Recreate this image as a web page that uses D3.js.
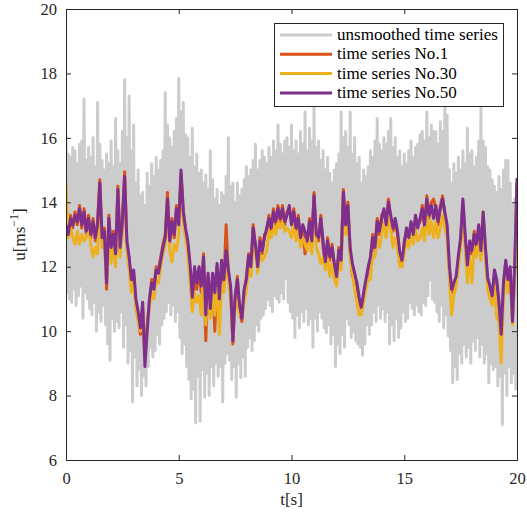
<!DOCTYPE html>
<html><head><meta charset="utf-8">
<script src="https://cdn.jsdelivr.net/npm/d3@7"></script>
<style>body{margin:0;background:#fff}</style>
</head><body>
<svg id="c" width="527" height="516"></svg>
<script>
const dtRaw = 0.05;
const dt = 0.1;
const unsmoothed = [
16.1,11.2,15.5,11.0,15.4,10.9,15.7,11.3,15.6,10.8,15.2,11.1,15.8,11.4,15.9,10.4,17.2,11.2,15.3,11.0,
15.7,10.7,15.4,10.5,16.0,10.9,15.1,10.0,17.1,10.6,15.8,10.3,15.3,10.8,15.0,10.2,15.5,9.6,15.2,9.1,
15.9,10.4,15.1,10.0,16.6,10.3,15.6,10.1,15.2,10.6,16.2,9.5,17.8,10.2,16.0,9.0,17.3,9.4,15.6,7.8,
16.4,9.2,14.6,8.3,15.0,8.8,14.2,8.0,14.3,8.6,13.9,8.3,14.9,8.9,14.5,9.5,15.2,9.2,14.8,9.4,
15.4,9.9,15.0,9.6,15.3,10.2,15.6,10.4,17.4,10.6,16.4,10.9,16.0,10.5,15.7,10.8,16.2,10.3,16.6,10.6,
17.85,9.8,16.8,9.3,17.1,9.6,16.1,8.9,16.0,8.5,15.4,7.9,16.3,8.2,15.1,7.15,15.5,8.6,14.9,7.2,
15.0,8.8,14.6,7.95,14.85,8.7,14.4,8.0,15.6,8.9,14.7,8.3,14.1,9.0,14.4,8.6,13.9,8.9,14.3,7.8,
14.2,9.0,14.8,9.3,16.0,9.1,14.5,8.5,14.6,8.9,14.0,7.95,14.6,9.0,14.2,8.55,14.4,9.2,14.7,8.6,
15.1,9.5,14.8,9.8,15.0,9.4,15.3,9.7,15.8,10.2,15.0,10.0,15.3,10.4,15.6,10.5,15.4,10.7,15.2,11.0,
15.7,10.8,15.4,10.6,15.9,11.1,15.6,11.0,16.4,10.9,15.8,11.2,15.5,11.0,15.9,11.65,16.0,10.9,15.7,10.6,
16.4,10.4,15.6,9.8,15.9,10.5,15.5,10.1,16.2,10.6,15.8,10.3,16.8,10.7,15.6,10.2,16.3,10.4,15.9,9.5,
17.0,10.4,15.7,10.0,15.9,10.6,15.3,10.4,15.6,10.1,15.0,9.95,15.4,10.2,14.9,9.6,14.6,9.9,15.0,8.9,
15.2,9.6,15.5,9.3,16.8,9.9,16.0,9.5,16.2,10.4,15.7,10.2,16.8,9.8,15.5,10.0,16.0,9.7,15.2,9.6,
15.4,9.5,14.6,9.25,15.0,9.6,14.8,10.2,15.1,9.9,15.6,10.2,15.4,10.6,15.9,10.3,16.6,10.8,15.8,10.4,
15.6,10.7,16.0,10.3,15.8,10.6,16.2,9.6,16.6,10.2,15.7,9.7,16.0,10.4,15.4,9.8,15.6,10.1,15.1,10.6,
15.5,10.3,15.2,10.4,15.6,10.9,15.9,10.7,15.4,10.5,15.7,10.8,15.8,10.6,16.1,10.5,16.2,10.9,15.9,10.8,
16.8,11.1,16.0,11.6,16.4,11.0,16.2,10.9,16.2,10.6,15.8,10.3,16.5,10.8,16.2,10.1,17.0,10.5,16.7,9.85,
15.0,9.4,14.6,8.4,15.2,8.9,14.9,8.5,15.4,9.3,15.0,9.0,15.6,9.6,15.2,9.2,16.3,9.5,15.5,9.0,
15.6,9.7,15.1,9.4,15.4,9.8,15.9,9.2,16.95,9.6,15.9,9.0,15.7,9.3,15.1,8.4,15.0,9.0,14.7,8.8,
14.5,8.9,14.3,8.3,14.8,8.6,14.4,7.1,15.0,8.7,15.3,8.0,15.3,8.9,14.6,8.4,13.9,8.7,14.1,8.2,
14.3];
const series1 = [
13.4,13.1,13.6,13.2,13.7,13.3,13.9,13.2,13.8,13.0,
13.6,12.9,13.5,12.8,13.4,14.7,12.8,13.2,11.3,13.6,
12.5,13.1,12.3,14.5,12.5,13.5,14.95,12.7,12.2,11.4,
11.8,10.8,10.4,9.9,10.7,9.2,10.2,10.9,11.6,11.4,
12.0,11.9,12.3,12.7,13.0,14.3,12.7,13.5,12.9,13.9,
13.4,14.9,13.8,13.1,12.7,11.9,10.8,11.9,11.3,11.9,
11.2,12.4,9.7,11.7,10.5,11.7,10.0,12.0,10.9,12.1,
11.5,13.3,11.8,11.3,9.6,11.0,11.7,10.6,10.3,11.2,
11.7,12.4,12.0,13.3,12.6,12.0,12.9,12.4,13.0,13.1,
13.6,13.1,13.8,13.3,13.9,13.4,13.9,13.3,13.7,13.8,
13.4,13.8,13.1,13.6,12.8,13.2,12.4,12.7,13.5,12.7,
14.3,12.9,12.8,13.6,12.6,12.0,12.9,12.2,12.7,12.0,
11.6,12.6,12.1,14.4,13.2,14.0,12.5,11.7,11.7,11.4,
10.9,10.7,11.1,11.5,11.9,12.2,13.0,12.5,13.5,13.0,
13.6,13.7,13.4,14.1,13.5,13.1,13.4,13.0,12.3,12.0,
12.8,13.1,13.0,13.3,13.1,13.5,13.3,13.4,13.9,13.2,
14.2,13.5,14.0,14.1,13.8,13.3,13.9,14.2,13.6,13.2,
11.9,11.2,11.4,11.55,12.2,12.8,14.0,12.9,11.9,12.7,
12.4,13.1,12.6,13.2,12.4,13.6,12.5,11.5,11.3,11.0,
11.8,11.5,10.8,10.0,11.4,12.1,11.5,11.9,10.4,11.85,
14.6];
const series30 = [
14.6,12.9,13.2,12.9,12.7,13.1,12.7,13.0,12.8,12.9,
13.2,12.7,12.3,12.6,12.4,14.3,12.6,12.8,11.6,13.2,
12.1,12.7,12.0,14.0,12.3,13.1,14.5,12.5,11.9,11.2,
11.5,10.7,10.3,10.0,10.6,9.1,10.1,10.8,11.2,11.0,
11.6,11.5,12.0,12.4,12.7,13.8,12.5,12.15,12.7,12.5,
13.0,14.7,13.4,12.9,12.4,11.6,10.6,11.2,10.9,11.1,
10.5,11.9,10.2,11.2,10.4,11.2,10.5,11.6,9.9,11.4,
11.2,12.1,11.6,11.0,9.8,10.7,10.9,10.5,10.6,10.9,
11.3,12.0,11.7,12.8,12.4,11.8,12.4,12.2,12.3,12.5,
13.1,12.9,13.3,13.0,13.4,13.2,13.4,13.1,13.2,13.1,
12.9,13.4,12.8,13.1,12.6,12.9,12.7,12.5,13.0,12.4,
13.9,12.6,12.4,12.1,12.3,11.9,12.3,11.7,12.1,11.6,
11.4,12.2,11.9,14.1,13.0,13.6,12.3,11.8,11.3,10.9,
10.5,10.5,10.9,11.3,11.6,11.6,12.4,12.3,12.9,12.6,
13.0,13.4,12.9,13.6,13.2,12.6,12.9,12.6,12.0,12.0,
12.4,12.8,12.6,13.0,12.7,13.2,12.8,12.9,13.2,12.8,
13.7,13.0,13.4,12.9,13.4,12.9,13.2,13.6,13.2,12.9,
11.7,10.5,11.1,11.4,12.0,12.6,13.8,12.6,11.5,12.3,
11.5,12.6,12.3,12.9,12.2,13.7,12.3,11.3,11.0,10.8,
11.4,10.4,10.3,9.0,11.0,11.9,11.2,11.7,10.2,11.8,
14.2];
const series50 = [
13.3,13.0,13.5,13.3,13.6,13.4,13.8,13.3,13.7,13.1,
13.5,13.0,13.4,12.9,13.3,14.6,12.9,13.1,11.5,13.5,
12.6,13.0,12.4,14.4,12.6,13.4,14.8,12.8,12.3,11.6,
11.9,11.0,10.6,10.1,10.9,8.9,10.0,11.0,11.5,11.3,
11.9,11.8,12.2,12.6,12.9,14.1,12.8,13.4,13.0,13.8,
13.3,15.0,13.7,13.2,12.8,12.1,11.05,12.0,11.5,12.0,
11.4,12.3,10.5,11.8,10.7,11.8,11.2,12.1,11.0,12.2,
11.6,12.5,11.9,11.4,9.7,11.1,11.6,10.8,10.4,11.3,
11.6,12.35,12.0,13.2,12.7,12.0,12.8,12.5,12.9,13.2,
13.5,13.2,13.7,13.4,13.8,13.5,13.8,13.4,13.6,13.9,
13.3,13.7,13.2,13.5,12.9,13.3,13.1,12.8,13.4,12.8,
14.2,13.0,12.9,13.5,12.8,12.15,12.8,12.3,12.6,12.1,
11.7,12.5,12.2,14.3,13.3,13.9,12.6,12.1,11.8,11.5,
11.05,10.75,11.2,11.6,12.0,12.3,12.9,12.6,13.4,13.1,
13.5,13.8,13.3,14.0,13.6,13.2,13.5,13.1,12.45,12.2,
12.7,13.2,12.9,13.4,13.0,13.6,13.2,13.5,13.8,13.3,
14.1,13.6,13.9,13.5,13.9,13.4,13.8,14.1,13.7,13.3,
12.05,11.3,11.5,11.7,12.35,12.9,14.1,13.0,12.05,12.8,
12.5,13.0,12.7,13.3,12.5,13.7,12.6,11.65,11.4,11.1,
11.9,11.6,10.9,9.9,11.5,12.2,11.6,12.0,10.3,12.1,
14.75];
const xTicks = [0, 5, 10, 15, 20];
const yTicks = [6, 8, 10, 12, 14, 16, 18, 20];
const legendLabels = ["unsmoothed time series", "time series No.1", "time series No.30", "time series No.50"];
const colors = ["#cccccc", "#D95319", "#EDB120", "#7E2F8E"];

const FONT = '"Liberation Serif"';
const svg = d3.select("#c");
const L = 66, R = 517, T = 9, B = 460;
const x = d3.scaleLinear().domain([0, 20]).range([L, R]);
const y = d3.scaleLinear().domain([6, 20]).range([B, T]);
const axisColor = "#262626";

svg.append("defs").append("clipPath").attr("id", "clip")
  .append("rect").attr("x", L).attr("y", T).attr("width", R - L).attr("height", B - T);

const g = svg.append("g").attr("clip-path", "url(#clip)");
[unsmoothed, series1, series30, series50].forEach((s, k) => {
  const step = k === 0 ? dtRaw : dt;
  const line = d3.line().x((d, i) => x(i * step)).y(d => y(d));
  g.append("path").datum(s).attr("d", line)
    .attr("fill", "none").attr("stroke", colors[k])
    .attr("stroke-width", 3)
    .attr("stroke-linejoin", "round").attr("stroke-linecap", "butt");
});

// axes
const tk = 5;
const ax = svg.append("g");
ax.append("g").attr("transform", `translate(0,${B})`)
  .call(d3.axisBottom(x).tickValues(xTicks).tickSize(-tk).tickPadding(12).tickFormat(d3.format("d")));
ax.append("g").attr("transform", `translate(0,${T})`)
  .call(d3.axisTop(x).tickValues(xTicks).tickSize(-tk).tickFormat(""));
ax.append("g").attr("transform", `translate(${L},0)`)
  .call(d3.axisLeft(y).tickValues(yTicks).tickSize(-tk).tickPadding(9).tickFormat(d3.format("d")));
ax.append("g").attr("transform", `translate(${R},0)`)
  .call(d3.axisRight(y).tickValues(yTicks).tickSize(-tk).tickFormat(""));
ax.selectAll(".domain").attr("stroke", axisColor).attr("stroke-width", 1);
ax.selectAll(".tick line").attr("stroke", axisColor);
ax.selectAll(".tick text").attr("fill", axisColor).style("font-family", FONT).style("font-size", "16.5px");

// axis labels
svg.append("text").attr("x", (L + R) / 2).attr("y", 505).attr("text-anchor", "middle")
  .style("font-family", FONT).style("font-size", "17px").attr("fill", axisColor).text("t[s]");
const yl = svg.append("text").attr("transform", `translate(25,${(T + B) / 2}) rotate(-90)`)
  .attr("text-anchor", "middle").style("font-family", FONT).style("font-size", "17px").attr("fill", axisColor);
yl.append("tspan").text("u[ms");
yl.append("tspan").attr("dy", -7).style("font-size", "12px").text("−1");
yl.append("tspan").attr("dy", 7).text("]");

// legend
const lg = svg.append("g");
lg.append("rect").attr("x", 274.5).attr("y", 23.5).attr("width", 229).attr("height", 83)
  .attr("fill", "#fff").attr("stroke", axisColor).attr("stroke-width", 1);
const texts = [];
legendLabels.forEach((lab, k) => {
  const cy = 35 + k * 19.3;
  lg.append("line").attr("x1", 280).attr("x2", 332).attr("y1", cy).attr("y2", cy)
    .attr("stroke", colors[k]).attr("stroke-width", 3);
  texts.push(lg.append("text").attr("x", 337).attr("y", cy + 5).style("font-family", FONT).style("font-size", "16px")
    .attr("fill", "#000").text(lab));
});
const w0 = texts[0].node().getComputedTextLength();
const fs = Math.max(12, Math.min(19, 16 * 161 / w0));
texts.forEach(t => t.style("font-size", fs + "px"));
</script>
</body></html>
